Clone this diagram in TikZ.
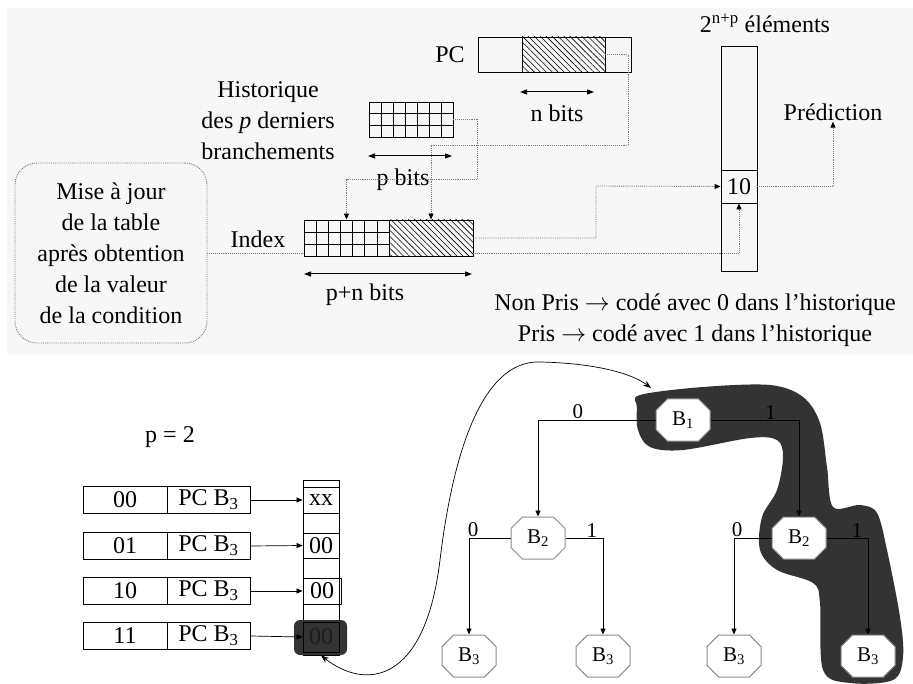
\documentclass[tikz,border=0pt]{standalone}
\usepackage{fontspec}
\setmainfont{Liberation Serif}
\usepackage{tikz}
\usetikzlibrary{calc,arrows.meta,shapes.misc,patterns.meta}
\definecolor{topbg}{HTML}{F7F7F7}
\definecolor{ink}{HTML}{000000}
\definecolor{dots}{HTML}{7A7A7A}
\definecolor{blob}{HTML}{333333}
\definecolor{octo}{HTML}{8C8C8C}
\definecolor{dim}{HTML}{1C1C1C}
\tikzset{
  txt/.style={text=ink, font=\fontsize{24}{31}\selectfont, inner sep=1pt},
  reg/.style={draw=ink, line width=0.9pt, inner sep=0pt},
  hatch/.style={reg, pattern={Lines[angle=-45,distance=4.2pt,line width=0.6pt]}},
  grid7/.style={reg, path picture={
    \foreach \i in {1,...,6}
      \draw[line width=0.6pt] ($(path picture bounding box.north west)!\i/7!(path picture bounding box.north east)$) -- ($(path picture bounding box.south west)!\i/7!(path picture bounding box.south east)$);
    \foreach \j in {1,2}
      \draw[line width=0.6pt] ($(path picture bounding box.north west)!\j/3!(path picture bounding box.south west)$) -- ($(path picture bounding box.north east)!\j/3!(path picture bounding box.south east)$);
  }},
  link/.style={draw=dots, densely dotted, line width=0.9pt},
  linkto/.style={link, -{Triangle[length=6pt,width=5pt,color=ink]}},
  span/.style={draw=ink, line width=1pt, {Triangle[length=7pt,width=5pt]}-{Triangle[length=7pt,width=5pt]}},
  box/.style={txt, draw=dots, densely dotted, line width=0.9pt, rounded corners=22pt, minimum width=192pt, minimum height=180pt, align=center},
  cellbox/.style={reg, txt, inner sep=0pt, minimum width=36pt},
  row/.style={reg, txt, minimum height=27pt},
  arr/.style={draw=ink, line width=0.7pt, -{Triangle[length=6pt,width=5pt]}},
  hl/.style={fill=blob, rounded corners=6pt, minimum width=53pt, minimum height=35pt},
  octa/.style={chamfered rectangle, chamfered rectangle xsep=10pt, draw=octo, fill=white, line width=1pt,
    minimum width=54pt, minimum height=42pt, inner sep=0pt, font=\fontsize{21}{24}\selectfont},
  edge/.style={draw=ink, line width=0.8pt, -{Triangle[length=6pt,width=5pt]}},
  lbl/.style={anchor=south, inner sep=0.5pt, font=\fontsize{21}{24}\selectfont},
  loopback/.style={draw=ink, line width=0.7pt, {Stealth[length=8pt,width=6pt]}-{Stealth[length=8pt,width=6pt]}}
}
\begin{document}
\begin{tikzpicture}[x=1pt,y=-1pt]
  \useasboundingbox (0,0) rectangle (913,684);
  \fill[topbg] (7,8) rectangle (913,355);

  % predictor
  \node[txt] (pclab) at (450,55) {PC};
  \node[reg, minimum width=153pt, minimum height=35pt] (pc) at (554.5,54.5) {};
  \node[hatch, minimum width=83pt, minimum height=35pt] (pch) at (563.5,54.5) {};
  \draw[span] (520,92) -- (594,92);
  \node[txt] (nbits) at (557,113) {n bits};

  \node[txt, align=center] (histlab) at (268,121) {Historique\\des \textit{p} derniers\\branchements};
  \node[grid7, minimum width=84pt, minimum height=35pt] (hist) at (411,119.5) {};
  \draw[span] (368,156) -- (452,156);
  \node[txt] (pbits) at (403,180) {p bits};

  \node[txt] (idxlab) at (258,239) {Index};
  \node[grid7, minimum width=85pt, minimum height=36pt] (idxg) at (346.5,238) {};
  \node[hatch, minimum width=84pt, minimum height=36pt] (idxh) at (431,238) {};
  \draw[span] (304,274) -- (472,274);
  \node[txt] (pnbits) at (365,295) {p+n bits};

  \node[box] (upd) at (111,253) {Mise à jour\\de la table\\après obtention\\de la valeur\\de la condition};

  \node[txt] (elem) at (765,23) {2\textsuperscript{n+p} éléments};
  \node[reg, minimum width=36pt, minimum height=225pt] (tab) at (739,158.5) {};
  \node[cellbox, minimum height=33pt] (cell) at (739,186.5) {10};
  \node[txt] (pred) at (833,112) {Prédiction};
  \node[txt, align=center] (legend) at (695,320) {Non Pris $\rightarrow$ codé avec 0 dans l’historique\\Pris $\rightarrow$ codé avec 1 dans l’historique};

  \draw[linkto] (hist.east) -| (477,179) -| (idxg.north);
  \draw[linkto] (pch.east) -| (628,145) -| (idxh.north);
  \draw[linkto] (idxh.east) -| (596,186) -- (cell.west);
  \draw[linkto] ($(idxh.south east)+(0,-3)$) -| (cell.south);
  \draw[linkto] (cell.east) -| (pred.south);
  \draw[link] (upd.east) -- (upd.east -| idxg.west);

  % example p = 2
  \node[txt] (plab) at (170,437) {p = 2};
  \node[reg, minimum width=36pt, minimum height=175pt] (btab) at (321,567.5) {};
  \node[hl] (bhl) at (320.5,637.5) {};
  \node[cellbox, minimum height=26pt] (bc1) at (321,500) {xx};
  \node[cellbox, minimum height=25pt] (bc2) at (321,545.5) {00};
  \node[cellbox, minimum height=26pt, minimum width=38pt] (bc3) at (322,591) {00};
  \node[cellbox, minimum height=30pt, text=dim] (bc4) at (321,637) {00};

  \node[row, minimum width=84pt] (k1) at (125,500) {00};
  \node[row, minimum width=84pt] (k2) at (125,546) {01};
  \node[row, minimum width=84pt] (k3) at (125,591) {10};
  \node[row, minimum width=84pt] (k4) at (125,636) {11};
  \node[row, minimum width=83pt] (p1) at (208.5,500) {PC B\textsubscript{3}};
  \node[row, minimum width=83pt] (p2) at (208.5,546) {PC B\textsubscript{3}};
  \node[row, minimum width=83pt] (p3) at (208.5,591) {PC B\textsubscript{3}};
  \node[row, minimum width=83pt] (p4) at (208.5,636) {PC B\textsubscript{3}};
  \draw[arr] (p1.east) -- (bc1.west);
  \draw[arr] (p2.east) -- (bc2.west);
  \draw[arr] (p3.east) -- (bc3.west);
  \draw[arr] (p4.east) -- (bc4.west);

  % tree
  \fill[blob] plot[smooth cycle, tension=0.55] coordinates {
    (640,395) (703,387) (770,385) (803,397) (820,423) (827,467) (833,507)
    (860,505) (877,513) (887,550) (900,617) (903,657) (893,680) (850,683)
    (823,670) (820,603) (813,583) (777,570) (760,550) (762,517) (777,490)
    (783,457) (777,440) (750,438) (683,450) (650,447) (638,430) (637,407)};

  \node[octa] (b1) at (683,420) {B\textsubscript{1}};
  \node[octa] (b2l) at (538,538) {B\textsubscript{2}};
  \node[octa] (b2r) at (799,538) {B\textsubscript{2}};
  \node[octa] (b3a) at (469,656) {B\textsubscript{3}};
  \node[octa] (b3b) at (603,656) {B\textsubscript{3}};
  \node[octa] (b3c) at (734,656) {B\textsubscript{3}};
  \node[octa] (b3d) at (868,656) {B\textsubscript{3}};

  \draw[edge] (b1.west) -| (b2l.north) node[lbl, pos=0.33] {0};
  \draw[edge] (b1.east) -| (b2r.north) node[lbl, pos=0.34] {1};
  \draw[edge] (b2l.west) -| (b3a.north) node[lbl, pos=0.45] {0};
  \draw[edge] (b2l.east) -| (b3b.north) node[lbl, pos=0.35] {1};
  \draw[edge] (b2r.west) -| (b3c.north) node[lbl, pos=0.46] {0};
  \draw[edge] (b2r.east) -| (b3d.north) node[lbl, pos=0.37] {1};

  \coordinate (hook) at (651,388);
  \draw[loopback] (btab.south) .. controls (365,690) and (425,685) .. (440,560)
    .. controls (452,460) and (480,360) .. (540,362)
    .. controls (590,363) and (630,372) .. (hook);
\end{tikzpicture}
\end{document}
